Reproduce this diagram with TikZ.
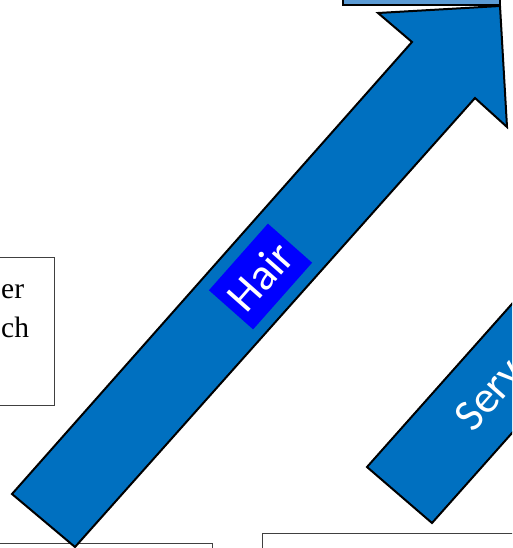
\documentclass[tikz,border=0pt]{standalone}
\usepackage{fontspec}
\setmainfont{Liberation Serif}
\newfontfamily\carl{Carlito}
\definecolor{arrowblue}{HTML}{0070C0}
\definecolor{rectblue}{HTML}{5B9BD5}
\definecolor{labelblue}{HTML}{0000FF}
\definecolor{boxline}{HTML}{404040}
\begin{document}
\begin{tikzpicture}[x=1pt,y=-1pt,
  arrowshape/.style={fill=arrowblue, draw=black, line width=2pt, line join=miter},
  textbox/.style={draw=boxline, line width=1pt, fill=white},
  boxtext/.style={anchor=base west, inner sep=0pt, font=\fontsize{29.5}{33}\selectfont},
  arrowlabel/.style={text=white, rotate=48.5, inner sep=0pt, font=\carl\fontsize{45}{48}\selectfont}]
\useasboundingbox (0,0) rectangle (512,548);
\clip (0,0) rectangle (512,548);
% text boxes (partly outside the view)
\draw[textbox] (-10,257) rectangle (54,405);
\node[boxtext] (l1) at (1,298) {er};
\node[boxtext] (l2) at (1,337) {ch};
\draw[textbox] (-10,543) rectangle (212,570);
\draw[textbox] (262,533) rectangle (530,570);
\draw[fill=rectblue, draw=black, line width=1.4pt] (343,-10) rectangle (500,5);
% arrows
\draw[arrowshape] (12,494) -- (412,42) -- (378,13) -- (500,6) -- (507,127) -- (475,98) -- (75,547) -- cycle;
\draw[arrowshape] (367,467) -- (432,523) -- (632,298) -- (567,242) -- cycle;
% labels
\node[arrowlabel, fill=labelblue, minimum width=89pt, minimum height=59pt] (hair) at (260.5,276.5) {Hair};
\node[arrowlabel, anchor=west] (serv) at (462.5,424) {Serv};
\end{tikzpicture}
\end{document}
